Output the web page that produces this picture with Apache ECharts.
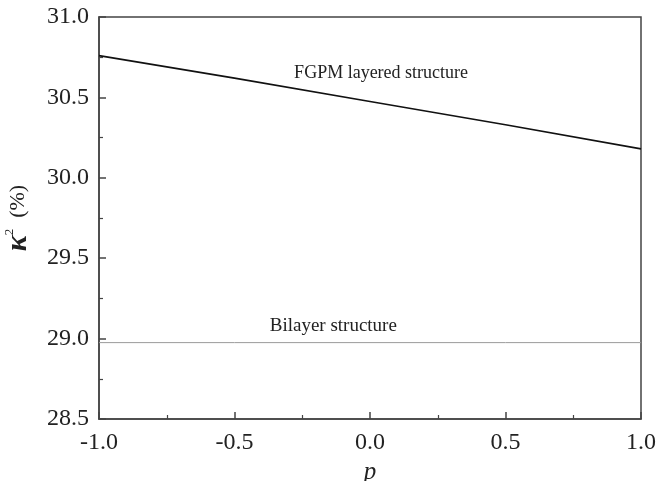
<!DOCTYPE html>
<html>
<head>
<meta charset="utf-8">
<script src="https://cdn.jsdelivr.net/npm/echarts@6/dist/echarts.min.js"></script>
<style>html,body{margin:0;padding:0;background:#fff;}#c{width:657px;height:481px;}</style>
</head>
<body>
<div id="c"></div>
<script>
const pValues = [-1.0, -0.5, 0.0, 0.5, 1.0];
const fgpmK2 = [30.76, 30.62, 30.475, 30.33, 30.18];
const bilayerK2 = [28.975, 28.975, 28.975, 28.975, 28.975];
const xTicks = [-1.0, -0.5, 0.0, 0.5, 1.0];
const yTicks = [28.5, 29.0, 29.5, 30.0, 30.5, 31.0];
const fgpmLabel = 'FGPM layered structure';
const bilayerLabel = 'Bilayer structure';
const fgpmLabelAt = [-0.28, 30.65];
const bilayerLabelAt = [-0.37, 29.08];

const font = "'Liberation Serif', 'Times New Roman', Times, serif";
const chart = echarts.init(document.getElementById('c'), null, {renderer: 'canvas'});
const axisCommon = {
  axisTick: {show: true, inside: true, length: 7, lineStyle: {color: '#444', width: 1.5}},
  minorTick: {show: true, splitNumber: 2, length: 4, lineStyle: {color: '#444', width: 1.2}},
  splitLine: {show: false},
  axisLabel: {color: '#222', fontFamily: font, fontSize: 24}
};
chart.setOption({
  animation: false,
  backgroundColor: '#fff',
  grid: {left: 99, right: 16, top: 17, bottom: 62, containLabel: false, outerBoundsMode: 'none',
         show: true, borderColor: '#444', borderWidth: 1.5, backgroundColor: 'transparent'},
  xAxis: Object.assign({}, axisCommon, {
    type: 'value', min: xTicks[0], max: xTicks[xTicks.length-1], interval: 0.5,
    axisLine: {show: true, onZero: false, lineStyle: {color: '#444', width: 1.5}},
    axisLabel: Object.assign({}, axisCommon.axisLabel, {margin: 12, formatter: v => v.toFixed(1)}),
    name: 'p', nameLocation: 'middle', nameGap: 30,
    nameTextStyle: {fontFamily: font, fontStyle: 'italic', fontSize: 25, color: '#222'}
  }),
  yAxis: Object.assign({}, axisCommon, {
    type: 'value', min: yTicks[0], max: yTicks[yTicks.length-1], interval: 0.5,
    axisLine: {show: true, onZero: false, lineStyle: {color: '#444', width: 1.5}},
    axisLabel: Object.assign({}, axisCommon.axisLabel, {margin: 10, formatter: v => v.toFixed(1)}),
    name: '{k|κ}{s|2}{p|  (%)}', nameLocation: 'middle', nameGap: 66, nameRotate: 90,
    nameTextStyle: {
      color: '#222', fontFamily: font, fontSize: 22,
      rich: {
        k: {fontFamily: font, fontStyle: 'italic', fontWeight: 'bold', fontSize: 30, color: '#222'},
        s: {fontFamily: font, fontSize: 13, color: '#222', verticalAlign: 'top', padding: [0,0,12,0]},
        p: {fontFamily: font, fontSize: 22, color: '#222'}
      }
    }
  }),
  series: [
    {
      type: 'line', data: pValues.map((p, i) => [p, fgpmK2[i]]),
      showSymbol: false, lineStyle: {color: '#111', width: 1.6}, z: 3
    },
    {
      type: 'line', data: pValues.map((p, i) => [p, bilayerK2[i]]),
      showSymbol: false, lineStyle: {color: '#9a9a9a', width: 1}, z: 2
    }
  ]
});
const a = chart.convertToPixel({gridIndex: 0}, fgpmLabelAt);
const b = chart.convertToPixel({gridIndex: 0}, bilayerLabelAt);
chart.setOption({
  graphic: [
    {type: 'text', x: a[0], y: a[1], style: {text: fgpmLabel, fill: '#222', font: "18px " + font, textVerticalAlign: 'middle'}},
    {type: 'text', x: b[0], y: b[1], style: {text: bilayerLabel, fill: '#222', font: "19px " + font, textVerticalAlign: 'middle'}}
  ]
});
</script>
</body>
</html>
